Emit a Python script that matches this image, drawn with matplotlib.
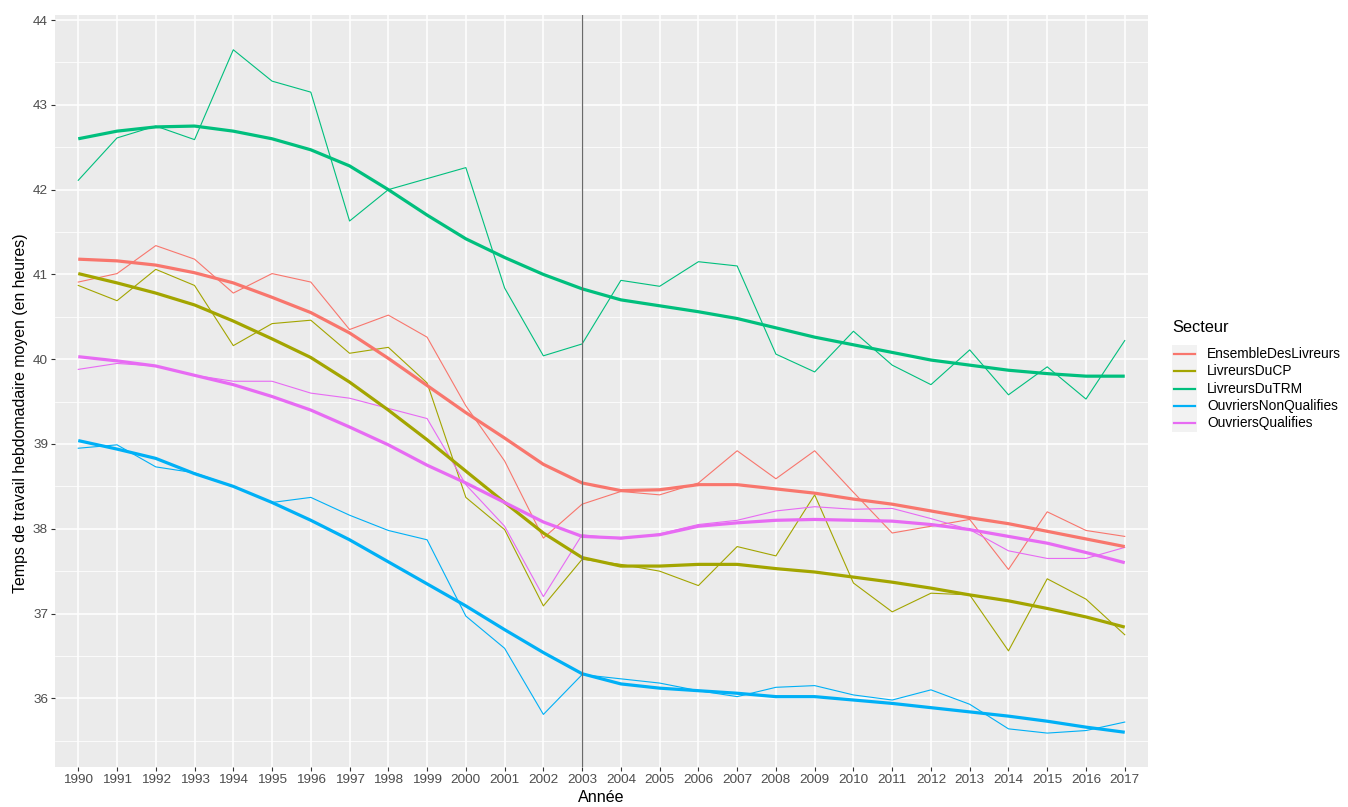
import matplotlib
matplotlib.use("Agg")
import matplotlib.pyplot as plt
from matplotlib.lines import Line2D
from matplotlib.patches import Rectangle

plt.rcParams['font.family'] = ['Liberation Sans', 'DejaVu Sans']

years = list(range(1990, 2018))
series_names = ["EnsembleDesLivreurs", "LivreursDuCP", "LivreursDuTRM",
                "OuvriersNonQualifies", "OuvriersQualifies"]
colors = ["#F8766D", "#A3A500", "#00BF7D", "#00B0F6", "#E76BF3"]

ensemble_raw = [40.91, 41.01, 41.34, 41.18, 40.78, 41.01, 40.91, 40.35, 40.52, 40.26,
                39.45, 38.80, 37.89, 38.29, 38.44, 38.40, 38.54, 38.92, 38.59, 38.92,
                38.43, 37.95, 38.03, 38.11, 37.52, 38.20, 37.98, 37.91]
ensemble_smooth = [41.18, 41.16, 41.11, 41.02, 40.90, 40.73, 40.55, 40.31, 40.01, 39.69,
                   39.37, 39.07, 38.76, 38.54, 38.45, 38.46, 38.52, 38.52, 38.47, 38.42,
                   38.35, 38.29, 38.21, 38.13, 38.06, 37.97, 37.88, 37.79]

cp_raw = [40.87, 40.69, 41.06, 40.87, 40.16, 40.42, 40.46, 40.07, 40.14, 39.72,
          38.37, 37.99, 37.09, 37.64, 37.58, 37.50, 37.33, 37.79, 37.68, 38.40,
          37.36, 37.02, 37.24, 37.22, 36.56, 37.41, 37.17, 36.75]
cp_smooth = [41.01, 40.90, 40.78, 40.64, 40.45, 40.24, 40.02, 39.73, 39.40, 39.05,
             38.68, 38.31, 37.95, 37.66, 37.56, 37.56, 37.58, 37.58, 37.53, 37.49,
             37.43, 37.37, 37.30, 37.22, 37.15, 37.06, 36.96, 36.84]

trm_raw = [42.11, 42.61, 42.75, 42.59, 43.65, 43.28, 43.15, 41.63, 42.00, 42.13,
           42.26, 40.84, 40.04, 40.18, 40.93, 40.86, 41.15, 41.10, 40.06, 39.85,
           40.33, 39.93, 39.70, 40.11, 39.58, 39.91, 39.53, 40.22]
trm_smooth = [42.60, 42.69, 42.74, 42.75, 42.69, 42.60, 42.47, 42.28, 42.00, 41.70,
              41.42, 41.20, 41.00, 40.83, 40.70, 40.63, 40.56, 40.48, 40.37, 40.26,
              40.17, 40.08, 39.99, 39.93, 39.87, 39.83, 39.80, 39.80]

onq_raw = [38.95, 38.99, 38.73, 38.66, 38.50, 38.31, 38.37, 38.16, 37.98, 37.87,
           36.97, 36.59, 35.81, 36.28, 36.23, 36.18, 36.09, 36.02, 36.13, 36.15,
           36.04, 35.98, 36.10, 35.93, 35.64, 35.59, 35.62, 35.72]
onq_smooth = [39.04, 38.94, 38.83, 38.65, 38.50, 38.31, 38.10, 37.87, 37.61, 37.35,
              37.09, 36.81, 36.54, 36.29, 36.17, 36.12, 36.09, 36.06, 36.02, 36.02,
              35.98, 35.94, 35.89, 35.84, 35.79, 35.73, 35.66, 35.60]

oq_raw = [39.88, 39.95, 39.92, 39.81, 39.74, 39.74, 39.60, 39.54, 39.42, 39.30,
          38.52, 38.03, 37.20, 37.93, 37.88, 37.94, 38.05, 38.10, 38.21, 38.26,
          38.23, 38.24, 38.12, 37.99, 37.74, 37.65, 37.65, 37.78]
oq_smooth = [40.03, 39.98, 39.92, 39.81, 39.70, 39.56, 39.40, 39.20, 38.99, 38.75,
             38.54, 38.31, 38.08, 37.91, 37.89, 37.93, 38.03, 38.07, 38.10, 38.11,
             38.10, 38.09, 38.05, 37.99, 37.91, 37.83, 37.72, 37.60]

raw_data = [ensemble_raw, cp_raw, trm_raw, onq_raw, oq_raw]
smooth_data = [ensemble_smooth, cp_smooth, trm_smooth, onq_smooth, oq_smooth]

y_ticks = [36, 37, 38, 39, 40, 41, 42, 43, 44]
vline_year = 2003

W, H = 1348, 807
fig = plt.figure(figsize=(W / 100, H / 100), dpi=100)
ax = fig.add_axes([55 / W, 1 - 767 / H, (1148 - 55) / W, (767 - 15) / H])
ax.set_facecolor("#EBEBEB")
for s in ax.spines.values():
    s.set_visible(False)

ax.set_xlim(1989.4, 2017.6)
ax.set_ylim(35.19, 44.06)
ax.set_xticks(years)
ax.set_xticklabels([str(y) for y in years])
ax.set_yticks(y_ticks)
ax.set_yticks([v + 0.5 for v in y_ticks[:-1]] + [35.5], minor=True)
ax.grid(True, which='major', color='white', lw=1.1)
ax.grid(True, which='minor', axis='y', color='white', lw=0.55)
ax.set_axisbelow(True)
ax.tick_params(axis='both', which='major', length=3, width=0.8, color='#333333',
               labelcolor='#4D4D4D', labelsize=9.7, pad=2)
ax.tick_params(axis='y', which='minor', length=0)

for raw, col in zip(raw_data, colors):
    ax.plot(years, raw, color=col, lw=0.8, zorder=3)
for sm, col in zip(smooth_data, colors):
    ax.plot(years, sm, color=col, lw=2.3, zorder=4, solid_capstyle='butt')

ax.axvline(vline_year, color='#6A6A6A', lw=0.9, zorder=5)

ax.set_xlabel("Année", fontsize=11.6, color='black', labelpad=3)
ax.set_ylabel("Temps de travail hebdomadaire moyen (en heures)", fontsize=11.4,
              color='black')
ax.yaxis.set_label_coords(-27 / (1148 - 55), 0.47)

# legend drawn in figure pixel coordinates
def fx(px):
    return px / W

def fy(py):
    return 1 - py / H

fig.text(fx(1172), fy(327), "Secteur", fontsize=11.8, va='center', ha='left')
key_h = 17.3
for i, (name, col) in enumerate(zip(series_names, colors)):
    yc = 354 + key_h * i
    fig.patches.append(Rectangle((fx(1172), fy(yc + key_h / 2)), 25 / W, key_h / H,
                                 transform=fig.transFigure, facecolor='#F2F2F2',
                                 edgecolor='none'))
    fig.lines.append(Line2D([fx(1174), fx(1195)], [fy(yc), fy(yc)],
                            transform=fig.transFigure, color=col, lw=1.6))
    fig.text(fx(1207), fy(yc), name, fontsize=9.9, va='center', ha='left',
             color='black')

fig.savefig("out.png", dpi=100)
